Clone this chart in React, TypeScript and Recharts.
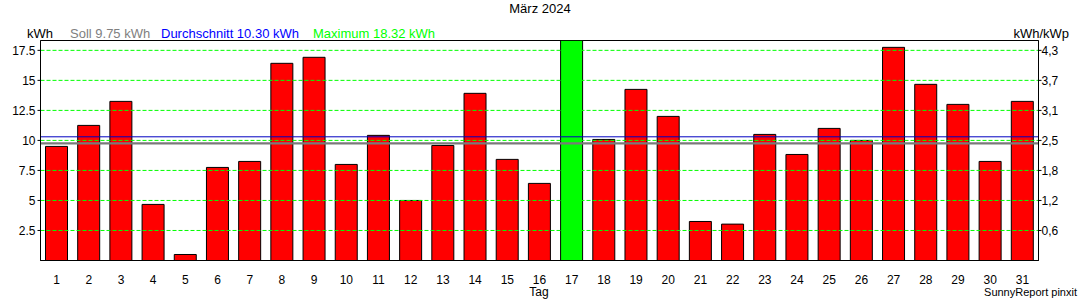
import React from 'react';
import { BarChart, Bar, XAxis, YAxis, ReferenceLine, ReferenceArea, Cell } from 'recharts';

const days = ['1','2','3','4','5','6','7','8','9','10','11','12','13','14','15','16','17','18','19','20','21','22','23','24','25','26','27','28','29','30','31'];
const energy = [9.5, 11.25, 13.25, 4.67, 0.5, 7.75, 8.25, 16.42, 16.92, 8.0, 10.42, 5.0, 9.58, 13.92, 8.42, 6.42, 18.32, 10.08, 14.25, 12.0, 3.25, 3.03, 10.5, 8.83, 11.0, 10.0, 17.75, 14.67, 13.0, 8.25, 13.25];
const leftTicks = [2.5, 5, 7.5, 10, 12.5, 15, 17.5];
const leftTickLabels = ['2.5', '5', '7.5', '10', '12.5', '15', '17.5'];
const rightTickLabels = ['0,6', '1,2', '1,8', '2,5', '3,1', '3,7', '4,3'];
const sollValue = 9.75;
const avgValue = 10.3;
const maxValue = 18.32;
const title = 'März 2024';
const xTitle = 'Tag';
const leftUnit = 'kWh';
const rightUnit = 'kWh/kWp';
const credit = 'SunnyReport pinxit';

const data = days.map((d, i) => ({ day: d, kwh: energy[i] }));

const W = 1080;
const H = 300;
const FONT = '"Liberation Sans", Arial, sans-serif';

export default function App() {
  return (
    <div style={{ position: 'absolute', left: 0, top: 0, width: W, height: H, background: '#fff' }}>
      <BarChart width={W} height={H} data={data} margin={{ top: 40.5, right: 0, bottom: 0, left: 0 }} barSize={22}>
        <XAxis
          dataKey="day"
          xAxisId={0}
          height={39.5}
          interval={0}
          tickLine={false}
          axisLine={{ stroke: '#000' }}
          tick={{ fill: '#000', fontSize: 12, fontFamily: FONT }}
          tickMargin={9}
        />
        <YAxis
          yAxisId="left"
          width={40.5}
          domain={[0, maxValue]}
          ticks={leftTicks}
          allowDataOverflow
          tickFormatter={(v: number) => leftTickLabels[leftTicks.indexOf(v)] ?? String(v)}
          tickSize={3}
          tickMargin={2}
          tickLine={{ stroke: '#000' }}
          axisLine={{ stroke: '#000' }}
          tick={{ fill: '#000', fontSize: 12, fontFamily: FONT }}
        />
        <YAxis
          yAxisId="right"
          orientation="right"
          width={41.5}
          domain={[0, maxValue]}
          ticks={leftTicks}
          allowDataOverflow
          tickFormatter={(v: number) => rightTickLabels[leftTicks.indexOf(v)] ?? String(v)}
          tickSize={3}
          tickMargin={0}
          tickLine={{ stroke: '#000' }}
          axisLine={{ stroke: '#000' }}
          tick={{ fill: '#000', fontSize: 12, fontFamily: FONT }}
        />
        <Bar yAxisId="left" dataKey="kwh" stroke="#000" strokeWidth={1} isAnimationActive={false}>
          {data.map((d, i) => (
            <Cell key={i} fill={d.kwh === maxValue ? '#00ff00' : '#ff0000'} />
          ))}
        </Bar>
        {leftTicks.map((t) => (
          <ReferenceLine key={t} yAxisId="left" y={t} stroke="#00ff00" strokeWidth={1} strokeDasharray="4 2" />
        ))}
        <ReferenceLine yAxisId="left" y={sollValue} stroke="#7a7a7a" strokeWidth={2.4} />
        <ReferenceLine yAxisId="left" y={avgValue} stroke="#0000c0" strokeWidth={1} />
        <ReferenceArea yAxisId="left" y1={0} y2={maxValue} fill="none" fillOpacity={0} stroke="#000" strokeWidth={1} />
      </BarChart>
      <svg
        width={W}
        height={H}
        style={{ position: 'absolute', left: 0, top: 0, pointerEvents: 'none' }}
        fontFamily={FONT}
        fontSize={13}
      >
        <text x={540} y={13} textAnchor="middle" fill="#000">{title}</text>
        <text x={27} y={38} fill="#000">{leftUnit}</text>
        <text x={70} y={38} fill="#808080">{`Soll ${sollValue.toFixed(2)} kWh`}</text>
        <text x={161} y={38} fill="#0000ff">{`Durchschnitt ${avgValue.toFixed(2)} kWh`}</text>
        <text x={313} y={38} fill="#00ff00">{`Maximum ${maxValue.toFixed(2)} kWh`}</text>
        <text x={1069} y={38} textAnchor="end" fill="#000">{rightUnit}</text>
        <text x={539} y={296} textAnchor="middle" fill="#000" fontSize={12}>{xTitle}</text>
        <text x={1077} y={296} textAnchor="end" fill="#000" fontSize={11}>{credit}</text>
      </svg>
    </div>
  );
}
